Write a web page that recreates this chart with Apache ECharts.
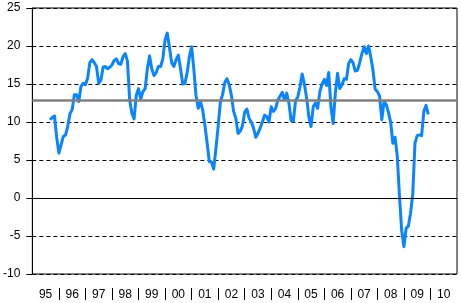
<!DOCTYPE html>
<html>
<head>
<meta charset="utf-8">
<script src="https://cdn.jsdelivr.net/npm/echarts@6/dist/echarts.min.js"></script>
<style>
html,body{margin:0;padding:0;background:#fff;}
#chart{width:461px;height:303px;}
</style>
</head>
<body>
<div id="chart"></div>
<script>
// Year tick labels (categories)
const years = ['95','96','97','98','99','00','01','02','03','04','05','06','07','08','09','10'];
// Monthly series starts September 1995
const firstYear = 1995;
const startMonthIndex = 8; // months after Jan 1995
const values = [
  10.3, 10.6, 10.8, 8.0, 5.9, 7.0, 8.1, 8.3, 9.4, 11.1, 11.6, 13.6,
  13.6, 12.7, 14.7, 15.1, 14.9, 15.8, 17.8, 18.2, 17.8, 17.3, 15.1, 15.5,
  17.2, 17.3, 17.0, 17.2, 17.5, 18.1, 18.3, 17.7, 17.6, 18.6, 19.0, 18.0,
  12.9, 11.2, 10.4, 13.5, 14.4, 13.0, 14.0, 14.4, 17.0, 18.7, 17.0, 16.1,
  16.5, 17.3, 17.3, 18.3, 20.8, 21.7, 19.8, 17.8, 17.3, 18.2, 18.8, 17.0,
  15.0, 15.1, 16.5, 18.6, 19.9, 17.0, 13.5, 11.8, 12.7, 11.6, 9.6, 7.3,
  4.8, 4.7, 3.8, 6.5, 9.4, 12.6, 13.6, 15.2, 15.7, 14.9, 13.5, 11.4,
  10.5, 8.5, 8.8, 9.5, 11.3, 11.7, 10.5, 10.0, 9.2, 8.0, 8.5, 9.2,
  10.0, 10.9, 10.7, 10.0, 12.0, 11.4, 11.8, 12.9, 13.4, 13.9, 12.9, 13.8,
  12.5, 10.2, 10.1, 12.8, 13.3, 14.6, 16.3, 15.0, 13.2, 10.7, 9.4, 12.0,
  12.5, 11.8, 14.0, 15.0, 15.6, 14.8, 16.5, 12.0, 9.8, 13.8, 16.4, 14.4,
  14.9, 15.7, 15.6, 17.7, 18.2, 17.8, 16.7, 16.8, 17.8, 19.0, 19.9, 19.0,
  20.0, 18.6, 16.8, 14.3, 14.0, 13.4, 10.3, 12.7, 12.3, 11.3, 10.0, 7.2,
  8.0, 5.5, 0.2, -4.3, -6.4, -4.0, -3.7, -2.0, 0.5, 7.2, 8.2, 8.3,
  8.2, 11.4, 12.2, 11.0
];
const refLevel = 12.8;
const yMin = -10, yMax = 25, yStep = 5;

const seriesData = values.map((v, i) => [startMonthIndex + i, v]);
const totalMonths = years.length * 12;
const separatorTicks = years.slice(1).map((_, i) => i + 1);

const chart = echarts.init(document.getElementById('chart'), null, {renderer: 'canvas'});
chart.setOption({
  animation: false,
  backgroundColor: '#fff',
  grid: {left: 32, right: 4, top: 8, bottom: 29, show: true, borderColor: '#000', borderWidth: 1, backgroundColor: 'transparent'},
  xAxis: [
    {type: 'value', min: 0, max: totalMonths, show: true,
     axisLine: {show: false}, axisTick: {show: false}, axisLabel: {show: false}, splitLine: {show: false}},
    {type: 'value', min: 0, max: years.length, interval: 1, position: 'bottom', offset: 14,
     axisLine: {show: false},
     axisTick: {show: true, length: 12, customValues: separatorTicks, lineStyle: {color: '#000', width: 1}},
     axisLabel: {show: false}, splitLine: {show: false}},
    {type: 'category', data: years, boundaryGap: true, position: 'bottom',
     axisLine: {show: false}, axisTick: {show: false},
     axisLabel: {margin: 15, color: '#000', fontSize: 12, fontFamily: 'Liberation Sans, Arial', interval: 0},
     splitLine: {show: false}}
  ],
  yAxis: {
    type: 'value', min: yMin, max: yMax, interval: yStep,
    axisLine: {show: true, lineStyle: {color: '#000', width: 1}},
    axisTick: {show: true, length: 6, lineStyle: {color: '#000'}},
    axisLabel: {margin: 12, color: '#000', fontSize: 12, fontFamily: 'Liberation Sans, Arial'},
    splitLine: {show: true, lineStyle: {color: '#000', width: 1, type: [4, 3]}}
  },
  series: [
    {type: 'line', xAxisIndex: 0, data: [], z: 1, silent: true,
     markLine: {silent: true, symbol: 'none', label: {show: false}, animation: false,
       data: [
         {yAxis: 0, lineStyle: {color: '#000', width: 1, type: 'solid'}},
         {yAxis: refLevel, lineStyle: {color: '#808080', width: 2.5, type: 'solid'}}
       ]}},
    {type: 'line', xAxisIndex: 0, data: seriesData, z: 3, showSymbol: false, symbol: 'none',
     lineStyle: {color: '#0a84ff', width: 3, join: 'round'}}
  ]
});
</script>
</body>
</html>
